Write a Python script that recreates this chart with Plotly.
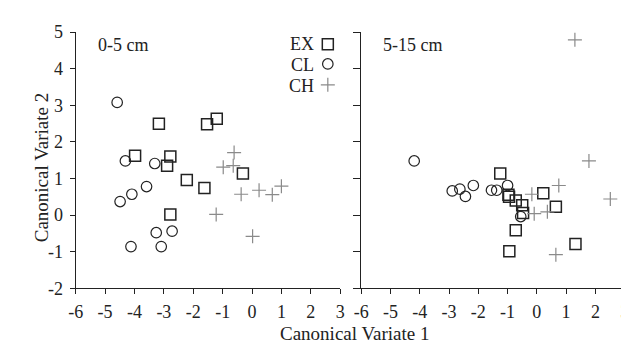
import plotly.graph_objects as go

# ---- data ----
left_ex_x = [-3.17, -1.53, -1.20, -3.98, -2.78, -2.89, -0.31, -2.22, -1.62, -2.78]
left_ex_y = [2.50, 2.48, 2.63, 1.62, 1.60, 1.35, 1.14, 0.96, 0.74, 0.02]
left_cl_x = [-4.59, -4.31, -3.31, -3.59, -4.09, -4.49, -3.26, -2.72, -4.12, -3.09]
left_cl_y = [3.08, 1.48, 1.41, 0.78, 0.57, 0.37, -0.48, -0.44, -0.86, -0.86]
left_ch_x = [-0.61, -0.98, -0.64, -0.37, 0.24, 0.69, 1.00, -1.22, 0.02]
left_ch_y = [1.71, 1.31, 1.35, 0.57, 0.68, 0.56, 0.79, 0.02, -0.58]

right_ex_x = [-1.25, -0.97, -0.95, -0.72, -0.50, -0.47, -0.72, -0.94, 0.22, 0.65, 1.32]
right_ex_y = [1.14, 0.56, 0.50, 0.40, 0.27, 0.06, -0.41, -0.99, 0.60, 0.23, -0.79]
right_cl_x = [-4.19, -2.17, -2.89, -2.63, -2.44, -1.55, -1.37, -1.00, -0.55]
right_cl_y = [1.48, 0.81, 0.66, 0.71, 0.51, 0.68, 0.68, 0.81, -0.04]
right_ch_x = [1.30, -0.17, -0.09, 0.36, 0.75, 1.78, 2.51, 0.65]
right_ch_y = [4.79, 0.57, 0.04, 0.09, 0.81, 1.48, 0.44, -1.08]

groups = ["EX", "CL", "CH"]
x_ticks = [-6, -5, -4, -3, -2, -1, 0, 1, 2, 3]
y_ticks = [-2, -1, 0, 1, 2, 3, 4, 5]
panel_labels = ["0-5 cm", "5-15 cm"]

FONT = "Liberation Serif"
DARK = "#222222"
GRAY = "#8a8a8a"

styles = {
    "EX": dict(symbol="square-open", size=11, color=DARK, line=dict(width=1.5, color=DARK)),
    "CL": dict(symbol="circle-open", size=10.5, color=DARK, line=dict(width=1.2, color=DARK)),
    "CH": dict(symbol="cross-thin-open", size=10, color=GRAY, line=dict(width=1.2, color=GRAY)),
}

fig = go.Figure()

def add(xs, ys, g, xa, ya):
    fig.add_trace(go.Scatter(x=xs, y=ys, mode="markers", marker=styles[g],
                             xaxis=xa, yaxis=ya, showlegend=False, cliponaxis=False))

add(left_cl_x, left_cl_y, "CL", "x", "y")
add(left_ex_x, left_ex_y, "EX", "x", "y")
add(left_ch_x, left_ch_y, "CH", "x", "y")
add(right_cl_x, right_cl_y, "CL", "x2", "y2")
add(right_ex_x, right_ex_y, "EX", "x2", "y2")
add(right_ch_x, right_ch_y, "CH", "x2", "y2")

# legend (markers in left panel, text to their left)
leg_marker_y = [4.67, 4.13, 3.56]
leg_text_y = [4.68, 4.09, 3.52]
for g, my, ty in zip(groups, leg_marker_y, leg_text_y):
    fig.add_trace(go.Scatter(x=[2.58], y=[my], mode="markers", marker=styles[g],
                             xaxis="x", yaxis="y", showlegend=False, cliponaxis=False))
    fig.add_annotation(x=2.19, y=ty, xref="x", yref="y", text=g, showarrow=False,
                       xanchor="right", yanchor="middle",
                       font=dict(family=FONT, size=18, color=DARK))

W, H = 629, 344
xd1 = [61 / W, 331 / W]
xd2 = [352.5 / W, 621.5 / W]
yd = [(H - 287) / H, (H - 15) / H]

axis_common = dict(showline=True, linecolor=DARK, linewidth=1.2,
                   ticks="outside", ticklen=5, tickwidth=1.2, tickcolor=DARK,
                   showgrid=False, zeroline=False,
                   tickfont=dict(family=FONT, size=18, color=DARK))

xa = dict(axis_common); xa.update(range=[-6, 3], tickvals=x_ticks, ticktext=[str(v) for v in x_ticks],
                                  ticklabelstandoff=2)
ya = dict(axis_common); ya.update(range=[-2, 5], tickvals=y_ticks, ticktext=[str(v) for v in y_ticks],
                                  ticklabelstandoff=3)

fig.update_layout(
    width=W, height=H, margin=dict(l=0, r=0, t=0, b=0),
    plot_bgcolor="white", paper_bgcolor="white",
    xaxis=dict(xa, domain=xd1, anchor="y"),
    yaxis=dict(ya, domain=yd, anchor="x"),
    xaxis2=dict(xa, domain=xd2, anchor="y2"),
    yaxis2=dict(ya, domain=yd, anchor="x2", showticklabels=False, ticklen=7),
)

# panel labels
fig.add_annotation(x=-5.31, y=4.66, xref="x", yref="y", text=panel_labels[0], showarrow=False,
                   xanchor="left", yanchor="middle", font=dict(family=FONT, size=18, color=DARK))
fig.add_annotation(x=-5.33, y=4.66, xref="x2", yref="y2", text=panel_labels[1], showarrow=False,
                   xanchor="left", yanchor="middle", font=dict(family=FONT, size=18, color=DARK))

# axis titles
fig.add_annotation(x=346 / W, y=(H - 335) / H, xref="paper", yref="paper", text="Canonical Variate 1",
                   showarrow=False, xanchor="center", yanchor="middle",
                   font=dict(family=FONT, size=19, color=DARK))
fig.add_annotation(x=26 / W, y=(H - 158) / H, xref="paper", yref="paper", text="Canonical Variate 2",
                   showarrow=False, xanchor="center", yanchor="middle", textangle=-90,
                   font=dict(family=FONT, size=19, color=DARK))

fig.write_html("out.html")
